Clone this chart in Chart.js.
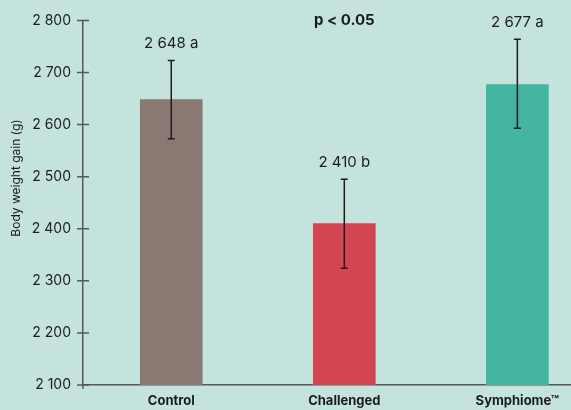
<!DOCTYPE html>
<html>
<head>
<meta charset="utf-8">
<script src="https://cdn.jsdelivr.net/npm/chart.js@4/dist/chart.umd.min.js"></script>
<style>
  html,body{margin:0;padding:0;background:#c4e3dd;overflow:hidden}
  #wrap{width:571px;height:410px;position:relative}
</style>
</head>
<body>
<div id="wrap"><canvas id="c"></canvas></div>
<script>
/* ---------- data ---------- */
const categories = ['Control', 'Challenged', 'Symphiome™'];
const gains      = [2648, 2410, 2677];
const errLow     = [2573, 2324, 2593];
const errHigh    = [2723, 2495, 2764];
const valueTags  = ['2 648 a', '2 410 b', '2 677 a'];
const yTicks     = [2100, 2200, 2300, 2400, 2500, 2600, 2700, 2800];
const barColors  = ['#8a7873', '#d34553', '#43b5a1'];
const pNote      = 'p < 0.05';
const yTitle     = 'Body weight gain (g)';

const INK = '#1c1c1c', AXIS = '#555a58';
const FONT = 'Inter, "Noto Sans", sans-serif';
const fmt = v => String(v).replace(/\B(?=(\d{3})+(?!\d))/g, ' ');

// background, axis ticks crossing the line, error bars, tags, title
const decor = {
  id: 'decor',
  beforeDraw(chart){
    const c = chart.ctx;
    c.save(); c.fillStyle = '#c4e3dd'; c.fillRect(0, 0, chart.width, chart.height); c.restore();
  },
  afterDraw(chart){
    const c = chart.ctx, xs = chart.scales.x, ys = chart.scales.y, a = chart.chartArea;
    c.save();
    // y axis ticks (cross the axis) + small overhang below x axis
    c.strokeStyle = AXIS; c.lineWidth = 1.5;
    c.beginPath();
    yTicks.forEach(t => { const y = ys.getPixelForValue(t); c.moveTo(a.left - 6, y); c.lineTo(a.left + 6, y); });
    c.moveTo(a.left, a.bottom); c.lineTo(a.left, a.bottom + 4);
    c.stroke();
    // error bars
    c.strokeStyle = INK; c.lineWidth = 1.5;
    gains.forEach((g, i) => {
      const x = xs.getPixelForValue(i), y1 = ys.getPixelForValue(errLow[i]), y2 = ys.getPixelForValue(errHigh[i]);
      c.beginPath();
      c.moveTo(x, y1); c.lineTo(x, y2);
      c.moveTo(x - 3.5, y1); c.lineTo(x + 3.5, y1);
      c.moveTo(x - 3.5, y2); c.lineTo(x + 3.5, y2);
      c.stroke();
    });
    // value tags
    c.fillStyle = INK; c.textAlign = 'center'; c.textBaseline = 'middle';
    c.font = '15px ' + FONT;
    valueTags.forEach((t, i) => {
      c.fillText(t, xs.getPixelForValue(i), ys.getPixelForValue(errHigh[i]) - 17);
    });
    // p value
    c.font = 'bold 15px ' + FONT;
    c.fillText(pNote, xs.getPixelForValue(1), 20);
    // y title
    c.font = '12px ' + FONT;
    c.translate(16, 178); c.rotate(-Math.PI / 2);
    c.fillText(yTitle, 0, 0);
    c.restore();
  }
};

new Chart(document.getElementById('c'), {
  type: 'bar',
  data: {
    datasets: [{
      data: gains.map((g, i) => ({x: i, y: g})),
      backgroundColor: barColors,
      borderWidth: 0,
      barThickness: 62
    }]
  },
  options: {
    responsive: true, maintainAspectRatio: false, animation: false,
    layout: {padding: {top: 19, left: 0, right: 0, bottom: 0}},
    plugins: {legend: {display: false}, tooltip: {enabled: false}},
    scales: {
      x: {
        type: 'linear', min: -0.51, max: 2.31, offset: false,
        afterBuildTicks: s => { s.ticks = categories.map((c, i) => ({value: i})); },
        afterFit: s => { s.height = 25; },
        grid: {display: false, drawTicks: false, offset: false},
        border: {display: true, color: AXIS, width: 1.5},
        ticks: {callback: v => categories[v], color: INK, padding: 8,
                font: {family: FONT, size: 13, weight: 'bold'}, maxRotation: 0, autoSkip: false}
      },
      y: {
        min: 2100, max: 2800,
        afterBuildTicks: s => { s.ticks = yTicks.map(v => ({value: v})); },
        afterFit: s => { s.width = 83; },
        grid: {display: false, drawTicks: false},
        border: {display: true, color: AXIS, width: 1.5},
        ticks: {callback: v => fmt(v), color: INK, padding: 12,
                font: {family: FONT, size: 14}}
      }
    }
  },
  plugins: [decor]
});
</script>
</body>
</html>
